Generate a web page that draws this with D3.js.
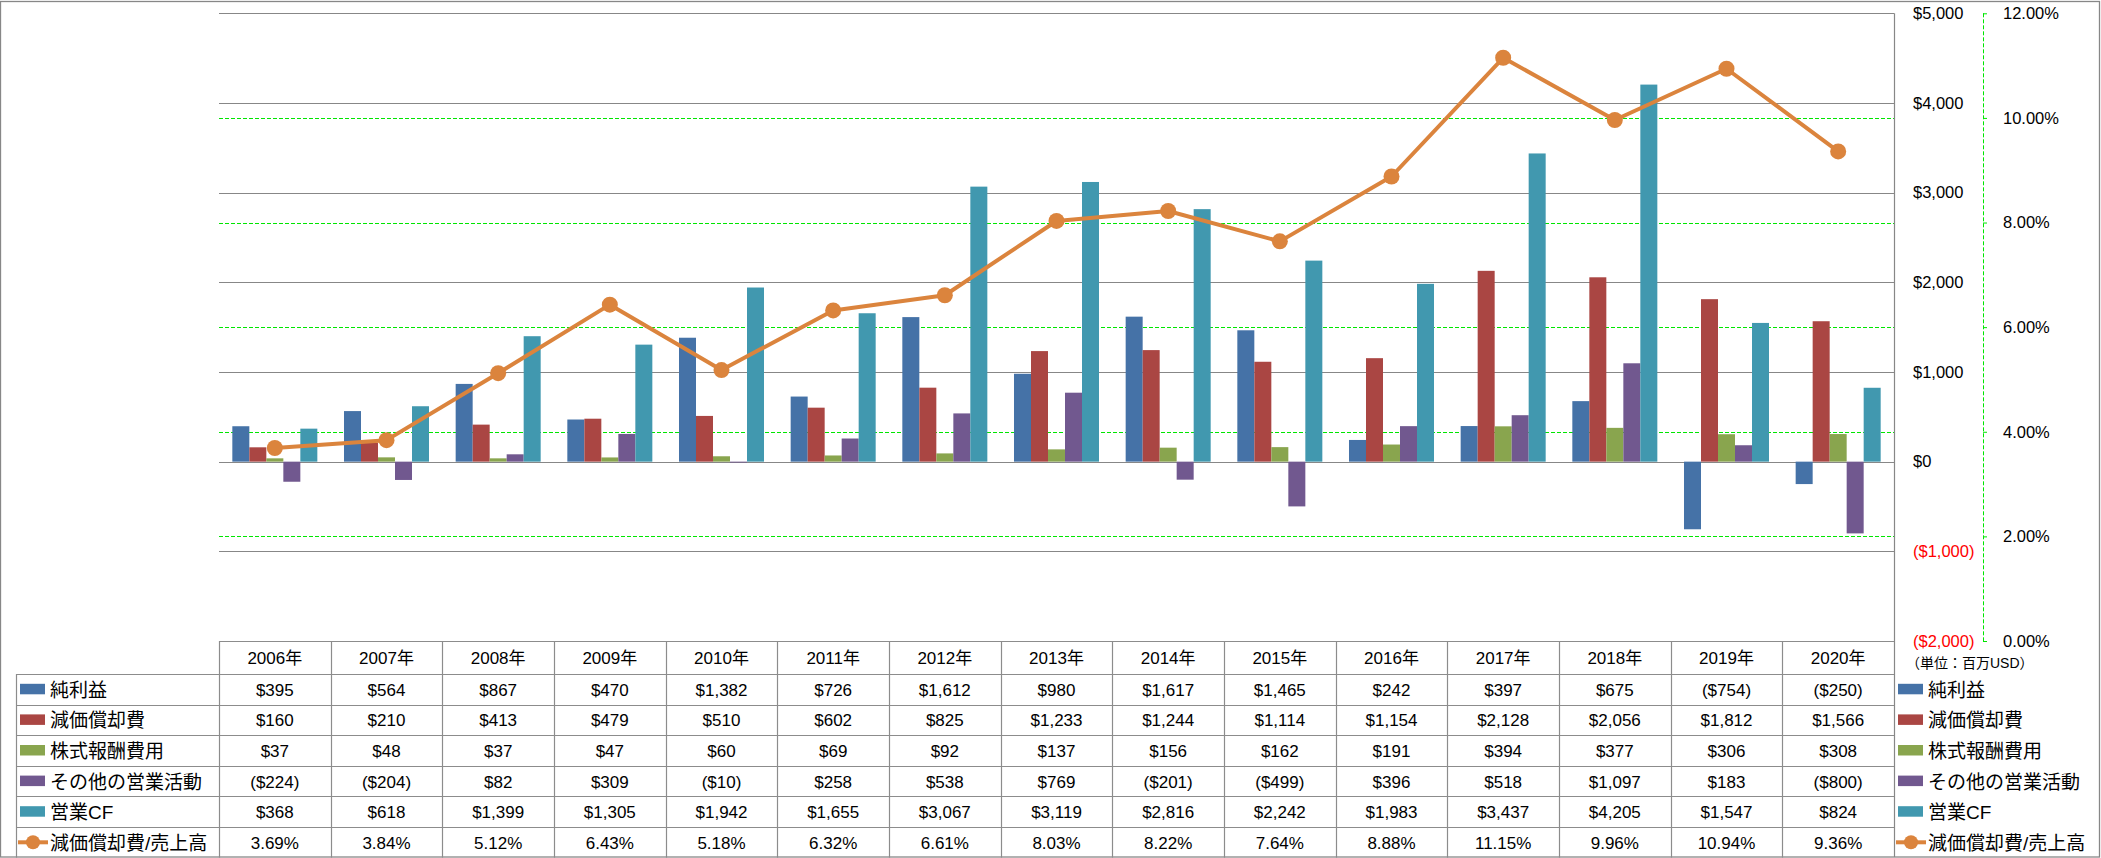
<!DOCTYPE html>
<html>
<head>
<meta charset="utf-8">
<script src="https://cdn.jsdelivr.net/npm/d3@7"></script>
<style>
  html, body { margin: 0; padding: 0; background: #ffffff; }
  svg { display: block; }
  .lat { font-family: "Liberation Sans", "Noto Sans CJK JP", sans-serif; }
  .cjk { font-family: "Liberation Sans", "Noto Sans CJK JP", sans-serif; }
</style>
</head>
<body>
<svg id="chart" width="2101" height="858"></svg>
<script>
// ---------------- data ----------------
const categories = ['2006年','2007年','2008年','2009年','2010年','2011年','2012年','2013年','2014年','2015年','2016年','2017年','2018年','2019年','2020年'];
const seriesNames = ['純利益','減価償却費','株式報酬費用','その他の営業活動','営業CF'];
const lineName = '減価償却費/売上高';
const netIncome    = [395, 564, 867, 470, 1382, 726, 1612, 980, 1617, 1465, 242, 397, 675, -754, -250];
const depreciation = [160, 210, 413, 479, 510, 602, 825, 1233, 1244, 1114, 1154, 2128, 2056, 1812, 1566];
const stockComp    = [37, 48, 37, 47, 60, 69, 92, 137, 156, 162, 191, 394, 377, 306, 308];
const otherOps     = [-224, -204, 82, 309, -10, 258, 538, 769, -201, -499, 396, 518, 1097, 183, -800];
const operatingCF  = [368, 618, 1399, 1305, 1942, 1655, 3067, 3119, 2816, 2242, 1983, 3437, 4205, 1547, 824];
const depRatio     = [3.69, 3.84, 5.12, 6.43, 5.18, 6.32, 6.61, 8.03, 8.22, 7.64, 8.88, 11.15, 9.96, 10.94, 9.36];
const dollarTicks  = [-2000, -1000, 0, 1000, 2000, 3000, 4000, 5000];
const pctTicks     = [0, 2, 4, 6, 8, 10, 12];
const unitLabel    = '（単位：百万USD）';

// ---------------- styles / layout ----------------
const seriesValues = [netIncome, depreciation, stockComp, otherOps, operatingCF];
const barColors = ['#4572A7', '#AA4643', '#89A54E', '#71588F', '#4198AF'];
const lineColor = '#DB843D';
const gridGray = '#878787';
const gridGreen = '#00E600';

const plotL = 219, plotR = 1894, plotT = 13.3, plotB = 641;
const tableTop = 641, headerH = 33, rowH = 30.6, labelL = 16;

const svg = d3.select('#chart');

const x0 = d3.scaleBand().domain(categories).range([plotL, plotR]).paddingInner(0).paddingOuter(0);
const x1 = d3.scaleBand().domain(seriesNames).range([0, x0.bandwidth()]).paddingInner(0).paddingOuter(0.784);
const y = d3.scaleLinear().domain([-2000, 5000]).range([plotB, plotT]);
const yP = d3.scaleLinear().domain([0, 12]).range([plotB, plotT]);

const fmtNum = d3.format(',');
const fmtDollar = v => v < 0 ? `($${fmtNum(-v)})` : `$${fmtNum(v)}`;
const fmtPct = v => d3.format('.2f')(v) + '%';

// outer border
svg.append('rect').attr('x', 0.5).attr('y', 1.5).attr('width', 2099).attr('height', 855.5)
  .attr('fill', 'none').attr('stroke', gridGray).attr('stroke-width', 1.3);

// gray gridlines (dollar axis)
svg.append('g').selectAll('line').data(dollarTicks.filter(d => d !== -2000)).join('line')
  .attr('x1', plotL).attr('x2', plotR)
  .attr('y1', d => Math.round(y(d)) + 0.5).attr('y2', d => Math.round(y(d)) + 0.5)
  .attr('stroke', gridGray).attr('stroke-width', 1.2);

// green dashed gridlines (percent axis)
svg.append('g').selectAll('line').data(pctTicks.filter(d => d > 0 && d < 12)).join('line')
  .attr('x1', plotL).attr('x2', plotR)
  .attr('y1', d => Math.round(yP(d)) + 0.5).attr('y2', d => Math.round(yP(d)) + 0.5)
  .attr('stroke', gridGreen).attr('stroke-width', 1).attr('stroke-dasharray', '4,2');

// bars
const gBars = svg.append('g');
seriesNames.forEach((name, si) => {
  gBars.append('g').attr('fill', barColors[si]).selectAll('rect')
    .data(seriesValues[si].map((v, i) => ({ cat: categories[i], v })))
    .join('rect')
    .attr('x', d => x0(d.cat) + x1(name))
    .attr('width', x1.bandwidth())
    .attr('y', d => y(Math.max(0, d.v)))
    .attr('height', d => Math.abs(y(d.v) - y(0)));
});

// right dollar axis line
svg.append('line').attr('x1', plotR + 0.5).attr('x2', plotR + 0.5).attr('y1', plotT).attr('y2', 857)
  .attr('stroke', gridGray).attr('stroke-width', 1.2);

// dollar axis labels (left-aligned to the right of the axis)
const yAxisR = d3.axisRight(y).tickValues(dollarTicks).tickSize(0).tickPadding(19).tickFormat(fmtDollar);
const gY = svg.append('g').attr('transform', `translate(${plotR},0)`).call(yAxisR);
gY.select('.domain').remove();
gY.selectAll('text').attr('class', 'lat').style('font-size', '16.5px')
  .attr('fill', d => d < 0 ? '#FF0000' : '#000000');

// percent axis
const pctAxisX = 1983;
const yAxisP = d3.axisRight(yP).tickValues(pctTicks).tickSize(4).tickPadding(16).tickFormat(fmtPct);
const gP = svg.append('g').attr('transform', `translate(${pctAxisX},0)`).call(yAxisP);
gP.select('.domain').attr('stroke', gridGreen).attr('stroke-dasharray', '4,2').attr('d', `M0.5,${plotT}V${plotB}`);
gP.selectAll('.tick line').attr('stroke', gridGreen);
gP.selectAll('text').attr('class', 'lat').style('font-size', '16.5px').attr('fill', '#000');

// line + markers
const cx = i => x0(categories[i]) + x0.bandwidth() / 2;
const line = d3.line().x((d, i) => cx(i)).y(d => yP(d));
svg.append('path').datum(depRatio).attr('d', line)
  .attr('fill', 'none').attr('stroke', lineColor).attr('stroke-width', 4).attr('stroke-linejoin', 'round');
svg.append('g').selectAll('circle').data(depRatio).join('circle')
  .attr('cx', (d, i) => cx(i)).attr('cy', d => yP(d)).attr('r', 8).attr('fill', lineColor);

// ---------------- data table ----------------
const gT = svg.append('g');
const tblStroke = '#8C8C8C';
const rowNames = seriesNames.concat([lineName]);
const rowValues = seriesValues.map(arr => arr.map(fmtDollar)).concat([depRatio.map(fmtPct)]);
const rowY = r => tableTop + headerH + r * rowH;
const tableBottom = rowY(rowNames.length);

// header top line
gT.append('line').attr('x1', plotL).attr('x2', plotR).attr('y1', tableTop + 0.5).attr('y2', tableTop + 0.5)
  .attr('stroke', tblStroke).attr('stroke-width', 1.2);
// row lines
gT.selectAll('line.row').data(d3.range(rowNames.length + 1)).join('line').attr('class', 'row')
  .attr('x1', labelL).attr('x2', plotR)
  .attr('y1', r => Math.round(rowY(r)) + 0.5).attr('y2', r => Math.round(rowY(r)) + 0.5)
  .attr('stroke', tblStroke).attr('stroke-width', 1.2);
// vertical column lines
gT.selectAll('line.col').data(categories).join('line').attr('class', 'col')
  .attr('x1', d => Math.round(x0(d)) + 0.5).attr('x2', d => Math.round(x0(d)) + 0.5)
  .attr('y1', tableTop).attr('y2', tableBottom)
  .attr('stroke', tblStroke).attr('stroke-width', 1.2);
// left border of label column
gT.append('line').attr('x1', labelL + 0.5).attr('x2', labelL + 0.5).attr('y1', rowY(0)).attr('y2', tableBottom)
  .attr('stroke', tblStroke).attr('stroke-width', 1.2);

// header labels
gT.selectAll('text.hdr').data(categories).join('text').attr('class', 'hdr lat')
  .attr('x', d => x0(d) + x0.bandwidth() / 2).attr('y', tableTop + headerH / 2 + 1)
  .attr('text-anchor', 'middle').attr('dominant-baseline', 'central')
  .style('font-size', '17px').text(d => d);

// cell values
rowValues.forEach((vals, r) => {
  gT.append('g').selectAll('text').data(vals).join('text').attr('class', 'lat')
    .attr('x', (d, i) => cx(i)).attr('y', rowY(r) + rowH / 2 + 1)
    .attr('text-anchor', 'middle').attr('dominant-baseline', 'central')
    .style('font-size', '17px').text(d => d);
});

// legend keys (left in table & right side)
function drawKey(g, r, xs, textX) {
  const cy = rowY(r) + rowH / 2;
  if (r < seriesNames.length) {
    g.append('rect').attr('x', xs).attr('y', cy - 5.5).attr('width', 25).attr('height', 10.5).attr('fill', barColors[r]);
  } else {
    g.append('line').attr('x1', xs - 2).attr('x2', xs + 28).attr('y1', cy).attr('y2', cy)
      .attr('stroke', lineColor).attr('stroke-width', 4);
    g.append('circle').attr('cx', xs + 13).attr('cy', cy).attr('r', 7).attr('fill', lineColor);
  }
  g.append('text').attr('class', 'cjk').attr('x', textX).attr('y', cy + 1)
    .attr('dominant-baseline', 'central').style('font-size', '19px').text(rowNames[r]);
}
const gL = svg.append('g');
rowNames.forEach((n, r) => drawKey(gL, r, 20, 50));
const gR = svg.append('g');
rowNames.forEach((n, r) => drawKey(gR, r, 1898, 1928));

// unit label
svg.append('text').attr('class', 'cjk').attr('x', 1906).attr('y', 663)
  .attr('dominant-baseline', 'central').style('font-size', '14px').text(unitLabel);
</script>
</body>
</html>
